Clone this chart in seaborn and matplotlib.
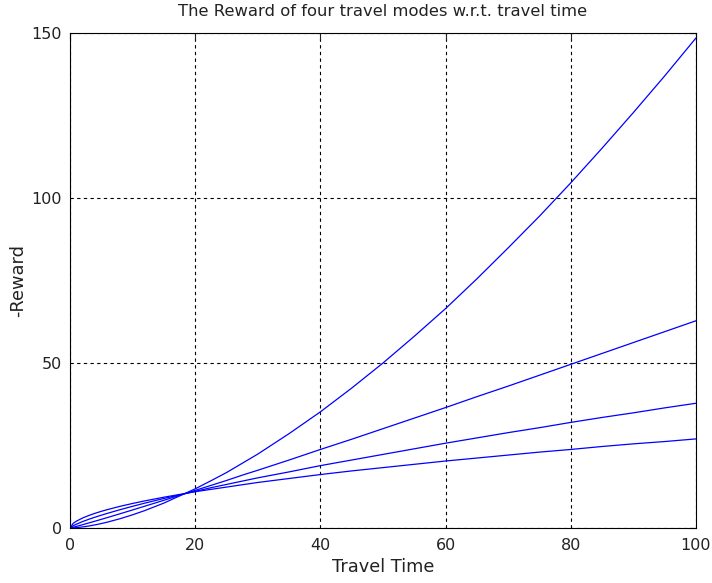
import numpy as np
import pandas as pd
import matplotlib
matplotlib.use("Agg")
import matplotlib.pyplot as plt
import seaborn as sns

travel_time = [0, 0.5, 1, 2, 3, 4, 5, 6, 8, 10, 12, 15, 20, 22.5, 25, 27.5, 30, 35, 40,
               45, 50, 55, 60, 65, 70, 75, 80, 85, 90, 95, 100]
mode_a = [0, 0.04, 0.11, 0.32, 0.60, 0.95, 1.35, 1.79, 2.82, 4.0, 5.32, 7.55, 11.87, 14.3,
          16.8, 19.6, 22.4, 28.6, 35.2, 42.4, 50.0, 58.1, 66.5, 75.5, 84.9, 94.5, 104.6,
          115.1, 125.9, 137.0, 148.5]
mode_b = [0, 0.23, 0.48, 0.99, 1.53, 2.07, 2.62, 3.18, 4.32, 5.47, 6.64, 8.40, 11.4, 12.9,
          14.4, 16.0, 17.5, 20.6, 23.8, 26.9, 30.1, 33.3, 36.5, 39.8, 43.0, 46.3, 49.6,
          52.9, 56.2, 59.5, 62.8]
mode_c = [0, 0.68, 1.14, 1.94, 2.64, 3.28, 3.88, 4.46, 5.55, 6.58, 7.56, 8.95, 11.1, 12.2,
          13.2, 14.2, 15.2, 17.0, 18.9, 20.6, 22.3, 24.0, 25.7, 27.3, 28.9, 30.4, 32.0,
          33.5, 34.9, 36.4, 37.8]
mode_d = [0, 1.39, 2.05, 3.02, 3.79, 4.46, 5.05, 5.59, 6.57, 7.44, 8.24, 9.33, 11.0, 11.7,
          12.4, 13.1, 13.8, 15.0, 16.2, 17.3, 18.3, 19.3, 20.3, 21.2, 22.1, 23.0, 23.8,
          24.7, 25.5, 26.2, 27.0]

frames = []
for name, vals in [("a", mode_a), ("b", mode_b), ("c", mode_c), ("d", mode_d)]:
    frames.append(pd.DataFrame({"t": travel_time, "r": vals, "mode": name}))
df = pd.concat(frames, ignore_index=True)

sns.set_theme(style="white")
plt.rcParams['font.family'] = ['DejaVu Sans']

fig = plt.figure(figsize=(7.12, 5.83), dpi=100)
ax = fig.add_axes([70/712, 55/583, 626/712, 495/583])

sns.lineplot(data=df, x="t", y="r", hue="mode", palette=["#0000ff"]*4,
             linewidth=0.9, legend=False, ax=ax, estimator=None, sort=False)

ax.set_xlim(0, 100)
ax.set_ylim(0, 150)
ax.set_xticks([0, 20, 40, 60, 80, 100])
ax.set_yticks([0, 50, 100, 150])
ax.grid(True, color="black", linestyle=(0, (3, 3)), linewidth=0.8)
for s in ax.spines.values():
    s.set_color("black")
    s.set_linewidth(0.8)
ax.tick_params(direction="in", length=5, width=0.8, top=True, right=True,
               labelsize=11.5, colors="#222222")
ax.tick_params(axis="x", pad=7)
ax.tick_params(axis="y", pad=6)
ax.set_xlabel("Travel Time", fontsize=12.8, labelpad=4, color="#222222")
ax.set_ylabel("-Reward", fontsize=12.8, labelpad=3, color="#222222")
ax.set_title("The Reward of four travel modes w.r.t. travel time", fontsize=11.8, pad=12,
             color="#222222")

fig.savefig("out.png", dpi=100)
